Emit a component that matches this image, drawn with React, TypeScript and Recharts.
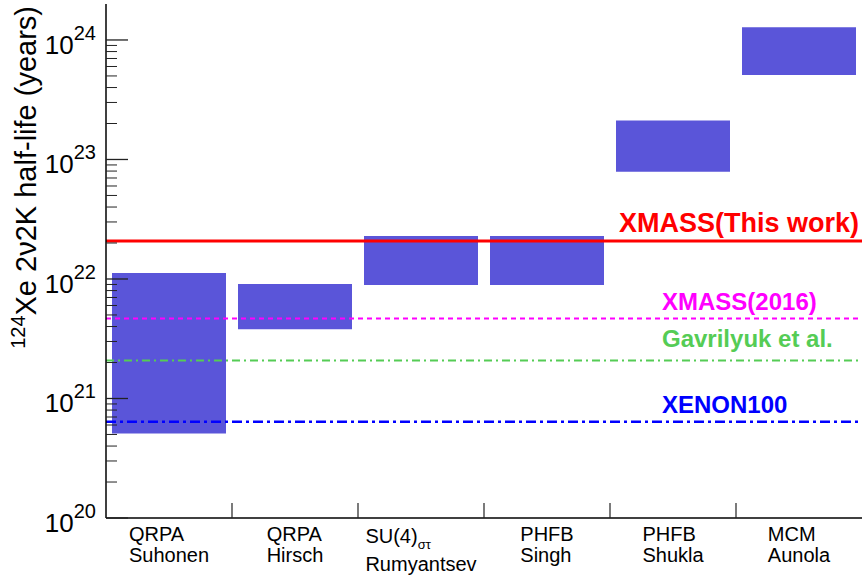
import React from 'react';
import { ComposedChart, Bar, XAxis, YAxis, ReferenceLine } from 'recharts';

// nuclear model predictions (half-life ranges, years)
const categories = ['QRPA Suhonen', 'QRPA Hirsch', 'SU(4) Rumyantsev', 'PHFB Singh', 'PHFB Shukla', 'MCM Aunola'];
const categoryLines = [
  ['QRPA', 'Suhonen'],
  ['QRPA', 'Hirsch'],
  ['SU(4)|στ', 'Rumyantsev'],
  ['PHFB', 'Singh'],
  ['PHFB', 'Shukla'],
  ['MCM', 'Aunola'],
];
const lowerHalfLife = [5.1e20, 3.8e21, 8.9e21, 8.9e21, 7.9e22, 5.1e23];
const upperHalfLife = [1.12e22, 9.1e21, 2.29e22, 2.29e22, 2.12e23, 1.28e24];

// experimental lower limits
const limitNames = ['XMASS(This work)', 'XMASS(2016)', 'Gavrilyuk et al.', 'XENON100'];
const limitValues = [2.08e22, 4.67e21, 2.08e21, 6.4e20];
const limitColors = ['#ff0000', '#ff00ff', '#55cc55', '#0000ff'];
const limitDashes = [undefined, '5 4', '8 4 2 4', '10 4 3 4'];
const limitWidths = [3, 2, 2, 2.5];

const yDecades = [20, 21, 22, 23];
const yTicks: number[] = [];
yDecades.forEach((d) => {
  for (let m = 1; m <= 9; m++) yTicks.push(m * Math.pow(10, d));
});
yTicks.push(1e24);

const data = categories.map((name, i) => ({ name, range: [lowerHalfLife[i], upperHalfLife[i]] }));

const FONT = '"Liberation Sans", Arial, Helvetica, sans-serif';
const W = 862;
const H = 578;
const PLOT_LEFT = 106;
const PLOT_TOP = 4;
const X_AXIS_H = 60;
const PLOT_BOTTOM = H - X_AXIS_H;
const BAND = (W - PLOT_LEFT) / categories.length;

let ctx: CanvasRenderingContext2D | null = null;
function textWidth(s: string, size: number) {
  if (!ctx) ctx = document.createElement('canvas').getContext('2d');
  if (!ctx) return s.length * size * 0.55;
  ctx.font = `${size}px ${FONT}`;
  return ctx.measureText(s).width;
}

function YTick(props: any) {
  const { y, payload } = props;
  const lg = Math.log10(payload.value);
  const major = Math.abs(lg - Math.round(lg)) < 1e-6;
  return (
    <g>
      <line x1={PLOT_LEFT} x2={PLOT_LEFT + (major ? 22 : 11)} y1={y} y2={y} stroke='#222' strokeWidth={major ? 1.3 : 1} />
      {major && (
        <text x={96} y={y + 14} textAnchor='end' fontFamily={FONT} fill='#000'>
          <tspan fontSize={26}>10</tspan>
          <tspan fontSize={20} dy={-14}>{Math.round(lg)}</tspan>
        </text>
      )}
    </g>
  );
}

function XTick(props: any) {
  const { x, payload } = props;
  const i = payload.index;
  const lines = categoryLines[i];
  const widths = lines.map((l) => {
    const [main, sub] = l.split('|');
    return textWidth(main, 20) + (sub ? textWidth(sub, 13) : 0);
  });
  const left = x - Math.max(...widths) / 2;
  let base = PLOT_BOTTOM + 23;
  const hasSub = lines[0].includes('|');
  if (hasSub) base += 2;
  return (
    <g>
      {i > 0 && <line x1={x - BAND / 2} x2={x - BAND / 2} y1={PLOT_BOTTOM} y2={PLOT_BOTTOM - 15} stroke='#222' strokeWidth={1.2} />}
      {lines.map((l, k) => {
        const [main, sub] = l.split('|');
        const yy = base + k * 21 + (k > 0 && hasSub ? 7 : 0);
        return (
          <text key={k} x={left} y={yy} fontFamily={FONT} fontSize={20} fill='#000'>
            {main}
            {sub && <tspan fontSize={13} dy={6}>{sub}</tspan>}
          </text>
        );
      })}
    </g>
  );
}

function AxisTitle() {
  return (
    <text transform='translate(36,6) rotate(-90)' textAnchor='end' fontFamily={FONT} fill='#000'>
      <tspan fontSize={20} dy={-11}>124</tspan>
      <tspan fontSize={29} dy={11}>Xe 2ν2K half-life (years)</tspan>
    </text>
  );
}

function limitLabel(i: number) {
  return (p: any) => {
    const vb = p.viewBox;
    const right = i === 0;
    return (
      <text
        x={right ? vb.x + vb.width - 3 : vb.x + vb.width - 200}
        y={vb.y - (i === 2 ? 13 : 9)}
        textAnchor={right ? 'end' : 'start'}
        fontFamily={FONT}
        fontWeight='bold'
        fontSize={right ? 27 : 24}
        fill={limitColors[i]}
      >
        {limitNames[i]}
      </text>
    );
  };
}

export default function App() {
  return (
    <div style={{ position: 'absolute', left: 0, top: 0, width: W, height: H, background: '#fff', overflow: 'hidden' }}>
      <ComposedChart width={W} height={H} data={data} margin={{ top: PLOT_TOP, right: 0, bottom: 0, left: 0 }} barCategoryGap={6}>
        <XAxis
          dataKey='name'
          height={X_AXIS_H}
          interval={0}
          tickLine={false}
          axisLine={{ stroke: '#000', strokeWidth: 1.5 }}
          tick={<XTick />}
        />
        <XAxis xAxisId='top' dataKey='name' orientation='top' height={0} tick={false} tickLine={false} axisLine={{ stroke: '#000', strokeWidth: 1.5 }} />
        <YAxis
          type='number'
          scale='log'
          domain={[1e20, 2e24]}
          allowDataOverflow
          ticks={yTicks}
          interval={0}
          width={PLOT_LEFT}
          tickLine={false}
          axisLine={{ stroke: '#000', strokeWidth: 1.5 }}
          tick={<YTick />}
          label={<AxisTitle />}
        />
        <Bar dataKey='range' fill='#5a55d9' isAnimationActive={false} />
        {limitValues.map((v, i) => (
          <ReferenceLine
            key={limitNames[i]}
            y={v}
            stroke={limitColors[i]}
            strokeWidth={limitWidths[i]}
            strokeDasharray={limitDashes[i]}
            label={limitLabel(i)}
          />
        ))}
      </ComposedChart>
    </div>
  );
}
